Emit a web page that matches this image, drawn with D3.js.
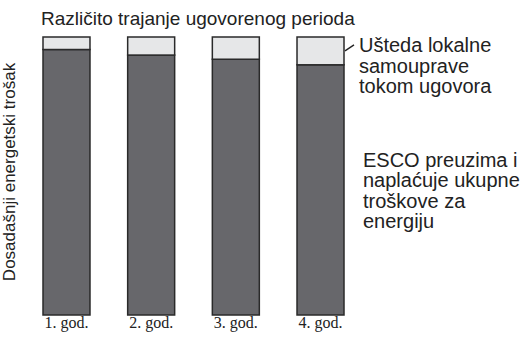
<!DOCTYPE html>
<html>
<head>
  <meta charset="utf-8">
  <script src="https://d3js.org/d3.v7.min.js"></script>
  <style>
    body { margin: 0; background: #fff; }
    svg { display: block; }
  </style>
</head>
<body>
  <div id="chart"></div>

  <script>
    // data (share of previous energy cost, %)
    var years = ["1. god.", "2. god.", "3. god.", "4. god."];
    var savings = [4.5, 6.5, 8, 10];
    var total = [100, 100, 100, 100];
    var savingsLabel = ["Ušteda lokalne", "samouprave", "tokom ugovora"];
    var escoLabel = ["ESCO preuzima i", "naplaćuje ukupne", "troškove za", "energiju"];

    var width = 520, height = 340;
    var margin = {top: 37, right: 176, bottom: 25, left: 43};
    var sans = "Liberation Sans, Arial, Helvetica, sans-serif";

    var svg = d3.select("#chart").append("svg")
      .attr("width", width)
      .attr("height", height);

    var x = d3.scaleBand()
      .domain(years)
      .range([margin.left, width - margin.right])
      .paddingInner(0.445)
      .paddingOuter(0);

    var y = d3.scaleLinear()
      .domain([0, 100])
      .range([height - margin.bottom, margin.top]);

    var rows = years.map(function(d, i) {
      return {year: d, total: total[i], saving: savings[i]};
    });

    // dark part: cost taken over by ESCO
    svg.selectAll("rect.esco")
      .data(rows)
      .enter().append("rect")
      .attr("class", "esco")
      .attr("x", function(d) { return x(d.year); })
      .attr("y", function(d) { return y(d.total - d.saving); })
      .attr("width", x.bandwidth())
      .attr("height", function(d) { return y(0) - y(d.total - d.saving); })
      .attr("fill", "#67676b")
      .attr("stroke", "#2a2a2a")
      .attr("stroke-width", 1.5);

    // light part: savings of local government
    svg.selectAll("rect.saving")
      .data(rows)
      .enter().append("rect")
      .attr("class", "saving")
      .attr("x", function(d) { return x(d.year); })
      .attr("y", function(d) { return y(d.total); })
      .attr("width", x.bandwidth())
      .attr("height", function(d) { return y(d.total - d.saving) - y(d.total); })
      .attr("fill", "#e6e7e8")
      .attr("stroke", "#2a2a2a")
      .attr("stroke-width", 1.5);

    // x axis labels only
    var xAxis = svg.append("g")
      .attr("transform", "translate(0," + (height - margin.bottom) + ")")
      .call(d3.axisBottom(x).tickSize(0).tickPadding(2));
    xAxis.select(".domain").remove();
    xAxis.selectAll("text")
      .attr("font-family", "Liberation Serif, Times New Roman, serif")
      .attr("font-size", 16)
      .attr("fill", "#222");

    // title
    svg.append("text")
      .attr("x", 41)
      .attr("y", 25)
      .attr("font-family", sans)
      .attr("font-size", 19)
      .attr("fill", "#222")
      .text("Različito trajanje ugovorenog perioda");

    // y label
    svg.append("text")
      .attr("transform", "rotate(-90)")
      .attr("x", -172)
      .attr("y", 15)
      .attr("text-anchor", "middle")
      .attr("font-family", sans)
      .attr("font-size", 17)
      .attr("fill", "#222")
      .text("Dosadašnji energetski trošak");

    // leader line from last bar to savings label
    var last = rows[rows.length - 1];
    var lx = x(last.year) + x.bandwidth();
    var ly = (y(last.total) + y(last.total - last.saving)) / 2;
    svg.append("line")
      .attr("x1", lx + 1)
      .attr("y1", ly)
      .attr("x2", lx + 10)
      .attr("y2", ly - 6)
      .attr("stroke", "#222")
      .attr("stroke-width", 1.3);

    svg.append("text")
      .attr("font-family", sans)
      .attr("font-size", 20)
      .attr("fill", "#222")
      .selectAll("tspan")
      .data(savingsLabel)
      .enter().append("tspan")
      .attr("x", lx + 15)
      .attr("y", function(d, i) { return 52 + i * 20.5; })
      .text(function(d) { return d; });

    svg.append("text")
      .attr("font-family", sans)
      .attr("font-size", 20)
      .attr("fill", "#222")
      .selectAll("tspan")
      .data(escoLabel)
      .enter().append("tspan")
      .attr("x", 363)
      .attr("y", function(d, i) { return 167 + i * 20.3; })
      .text(function(d) { return d; });
  </script>
</body>
</html>
